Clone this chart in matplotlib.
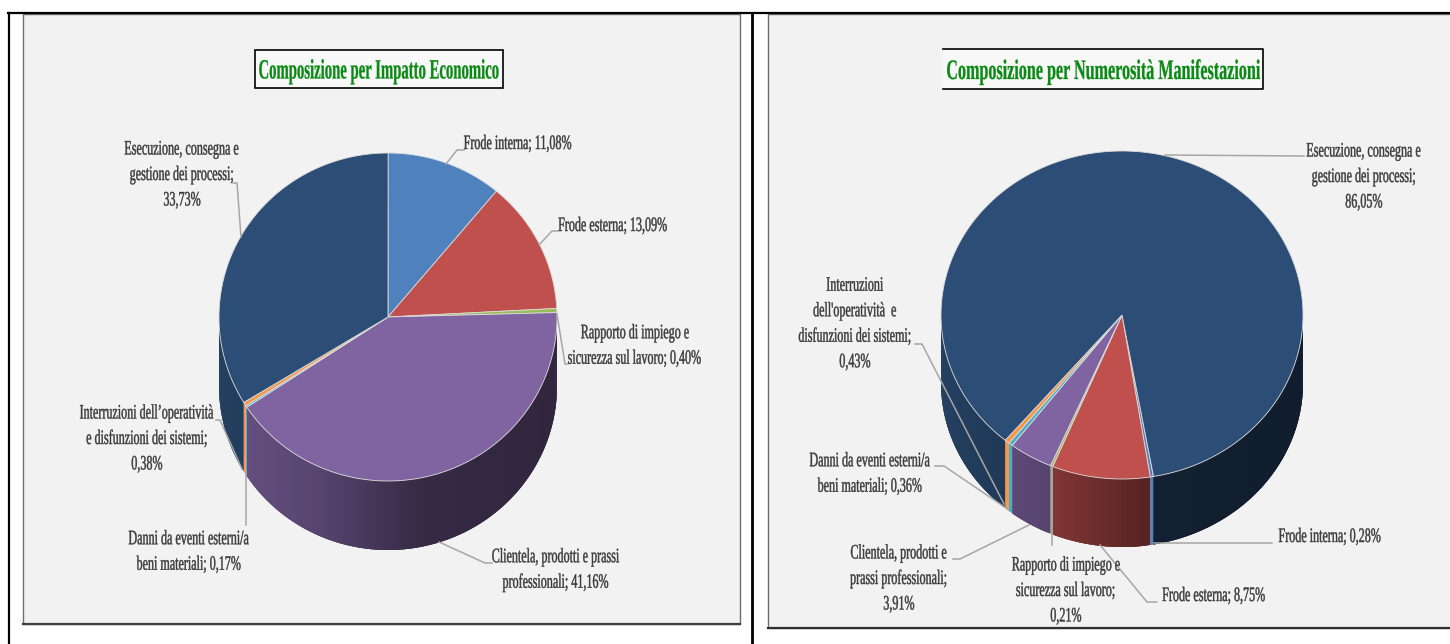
import matplotlib
matplotlib.use("Agg")
import matplotlib.patheffects as pe
import matplotlib.pyplot as plt
from matplotlib.transforms import Affine2D
import numpy as np

categories = ["Frode interna", "Frode esterna", "Rapporto di impiego e sicurezza sul lavoro",
              "Clientela, prodotti e prassi professionali", "Danni da eventi esterni/a beni materiali",
              "Interruzioni dell'operatività e disfunzioni dei sistemi", "Esecuzione, consegna e gestione dei processi"]
impatto_values = [11.08, 13.09, 0.40, 41.16, 0.17, 0.38, 33.73]
numerosita_values = [0.28, 8.75, 0.21, 3.91, 0.36, 0.43, 86.05]

impatto_text = ["Frode interna;", "Frode esterna;", "Rapporto di impiego e\nsicurezza sul lavoro;",
                "Clientela, prodotti e prassi\nprofessionali;", "Danni da eventi esterni/a\nbeni materiali;",
                "Interruzioni dell’operatività\ne disfunzioni dei sistemi;\n", "Esecuzione, consegna e\ngestione dei processi;\n"]
numerosita_text = ["Frode interna;", "Frode esterna;", "Rapporto di impiego e\nsicurezza sul lavoro;\n",
                   "Clientela, prodotti e\nprassi professionali;\n", "Danni da eventi esterni/a\nbeni materiali;",
                   "Interruzioni\ndell'operatività  e\ndisfunzioni dei sistemi;\n", "Esecuzione, consegna e\ngestione dei processi;\n"]

colors = ["#4f81bd", "#c0504d", "#9bbb59", "#8064a2", "#4bacc6", "#f79646", "#2c4d75"]

# layout, in pixels of the figure
impatto_pos = [(518, 143), (613, 225), (635, 345), (556, 569), (189, 551), (147, 438), (182, 174)]
numerosita_pos = [(1330, 536), (1214, 595), (1066, 590), (899, 578), (870, 473), (855, 323), (1364, 176)]
impatto_leaders = [[(464, 150), (457, 150), (446, 164)], [(558, 231), (552, 231), (539, 245)],
                   [(557, 314), (565, 364), (568, 364)], [(439, 542), (485, 563), (492, 563)],
                   [(246, 473), (246, 525)], [(216, 420), (220, 420), (242, 469)],
                   [(233, 183), (237, 183), (241, 237)]]
numerosita_leaders = [[(1272, 543), (1154, 543)], [(1100, 545), (1147, 602), (1157, 602)],
                      [(1052, 545), (1052, 467)], [(953, 559), (960, 559), (1029, 525)],
                      [(935, 466), (944, 466), (1009, 510)], [(915, 344), (922, 344), (1004, 504)],
                      [(1304, 156), (1165, 155)]]


class TallText(pe.AbstractPathEffect):
    # the reference text is squeezed sideways, so stretch the glyphs upward from the baseline

    def __init__(self, stretch, stroke):
        super().__init__()
        self.stretch = stretch
        self.stroke = stroke

    def draw_path(self, renderer, gc, tpath, affine, rgbFace=None):
        gc0 = renderer.new_gc()
        gc0.copy_properties(gc)
        gc0.set_linewidth(self.stroke)
        gc0.set_foreground(rgbFace)
        renderer.draw_path(gc0, tpath, Affine2D().scale(1, self.stretch) + affine, rgbFace)
        gc0.restore()


def rim(cx, cy, rx, ry, theta):
    return cx + rx*np.sin(theta), cy - ry*np.cos(theta)


def shade(color, x_norm):
    factor = np.interp(x_norm, [-1, -0.4, 0.2, 1], [0.82, 0.68, 0.42, 0.38])
    return tuple(c*factor for c in matplotlib.colors.to_rgb(color))


def draw_pie(ax, cx, cy, rx, ry, depth, values, start_deg):
    edges = np.radians(start_deg + np.cumsum([0] + values)*3.6)

    # side wall, front half only, in overlapping strips to get the gradient
    for value, color, a0, a1 in zip(values, colors, edges[:-1], edges[1:]):
        for wrap in (0, 2*np.pi):
            lo = max(a0 - wrap, np.pi/2)
            hi = min(a1 - wrap, 3*np.pi/2)
            if hi <= lo:
                continue
            steps = np.linspace(lo, hi, max(2, int((hi - lo)/0.01)))
            for t0, t1 in zip(steps[:-1], steps[1:]):
                ts = np.linspace(t0, min(t1 + 0.02, hi), 4)
                xs, ys = rim(cx, cy, rx, ry, ts)
                face = color if value < 1 else shade(color, np.sin((t0 + t1)/2))
                ax.fill(np.r_[xs, xs[::-1]], np.r_[ys, ys[::-1] + depth],
                        facecolor=face, edgecolor="none", zorder=2)

    # top face
    for color, a0, a1 in zip(colors, edges[:-1], edges[1:]):
        ts = np.linspace(a0, a1, max(3, int((a1 - a0)/0.01)))
        xs, ys = rim(cx, cy, rx, ry, ts)
        ax.fill(np.r_[cx, xs], np.r_[cy, ys], facecolor=color,
                edgecolor="#dcdcdc", linewidth=0.6, zorder=3)


def draw_labels(ax, values, texts, positions, leaders):
    for leader in leaders:
        xs, ys = zip(*leader)
        ax.plot(xs, ys, color="#a6a6a6", linewidth=1.1, zorder=4)
    for value, text, (x, y) in zip(values, texts, positions):
        sep = "" if text.endswith("\n") else " "
        label = f"{text}{sep}{value:.2f}".replace(".", ",") + "%"
        ax.text(x, y + 3, label, ha="center", va="center", fontsize=8.7, color="#3a3a3a",
                family="Liberation Serif", linespacing=2.5, zorder=5,
                path_effects=[TallText(1.7, 0.3)])


fig = plt.figure(figsize=(14.5, 6.44), dpi=100, facecolor="white")
ax = fig.add_axes((0, 0, 1, 1))
ax.set_xlim(0, 1450)
ax.set_ylim(644, 0)
ax.axis("off")

# panels
ax.fill([23, 740, 740, 23], [14, 14, 624, 624], facecolor="#f2f2f2", edgecolor="#6e6e6e", linewidth=1)
ax.fill([768, 1452, 1452, 768], [14, 14, 628, 628], facecolor="#f2f2f2", edgecolor="#6e6e6e", linewidth=1)
ax.plot([23, 740], [624, 624], color="#404040", linewidth=1.6)
ax.plot([768, 1450], [628, 628], color="#303030", linewidth=1.6)

# table rules
ax.plot([8, 1450], [13, 13], color="black", linewidth=1.6)
ax.plot([9, 9], [13, 644], color="black", linewidth=1.6)
ax.plot([752.5, 752.5], [13, 644], color="black", linewidth=2)

draw_pie(ax, 388, 317, 169, 164, 69, impatto_values, 0)
draw_pie(ax, 1122, 315, 181, 164, 68, numerosita_values, 170)
draw_labels(ax, impatto_values, impatto_text, impatto_pos, impatto_leaders)
draw_labels(ax, numerosita_values, numerosita_text, numerosita_pos, numerosita_leaders)

# title boxes
ax.fill([255, 503, 503, 255], [50, 50, 88, 88], facecolor="#f8f8f8", edgecolor="black", linewidth=1.2)
ax.fill([943, 1263, 1263, 943], [49, 49, 89, 89], facecolor="#f8f8f8", edgecolor="none")
ax.plot([943, 1263, 1263, 943], [49, 49, 89, 89], color="black", linewidth=1.2)
ax.text(379, 75, "Composizione per Impatto Economico", ha="center", va="center", fontsize=10.6,
        fontweight="bold", color="#0a8a14", family="Liberation Serif",
        path_effects=[TallText(1.9, 0.2)])
ax.text(1103, 75, "Composizione per Numerosità Manifestazioni", ha="center", va="center", fontsize=11.6,
        fontweight="bold", color="#0a8a14", family="Liberation Serif",
        path_effects=[TallText(1.75, 0.2)])

fig.savefig("out.png", dpi=100)
